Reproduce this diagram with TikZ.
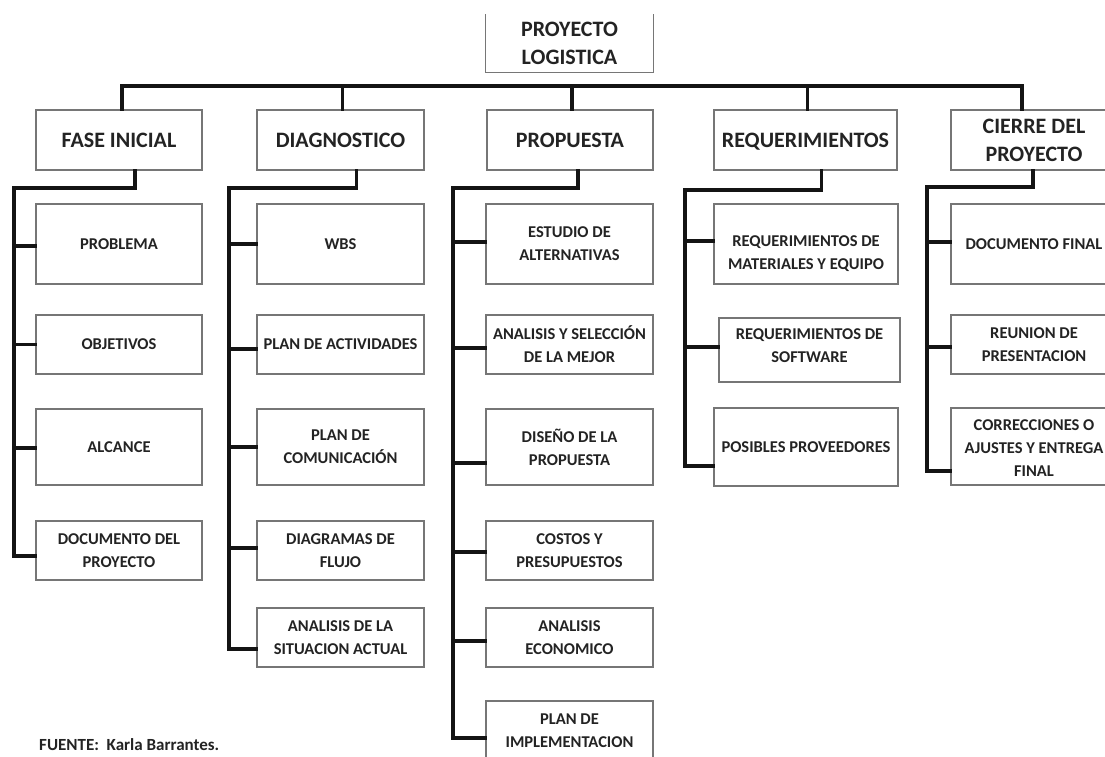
\documentclass[tikz,border=0pt]{standalone}
\usepackage{fontspec}
\setmainfont{Carlito}
\definecolor{boxgray}{RGB}{118,118,118}
\definecolor{ink}{RGB}{35,35,35}
% box by its corners (x1,y1,x2,y2), y grows downwards
\newcommand{\wbsbox}[7]{%
  \node[#2,minimum width={(#5-#3)*1pt},minimum height={(#6-#4)*1pt}]
    (#1) at ({(#3+#5)/2},{(#4+#6)/2}) {#7};}
% horizontal stub from a spine to a box's left side
\newcommand{\wbsstub}[3]{%
  \coordinate (tmp) at ([yshift=#3]#2.west);
  \draw[conn] (#1 |- tmp) -- (tmp);}
\begin{document}
\begin{tikzpicture}[x=1pt,y=-1pt,
  box/.style={rectangle,draw=boxgray,line width=1.3pt,inner sep=0pt,align=center,text=ink},
  lvone/.style={box,font=\fontsize{22}{28}\selectfont\bfseries},
  twofont/.style={font=\fontsize{16.5}{23}\selectfont\bfseries},
  lvtwo/.style={box,twofont},
  lvtext/.style={twofont,align=center,text=ink,inner sep=0pt},
  conn/.style={line width=3.2pt,black!92,line cap=rect,line join=miter}]
\clip (0,0) rectangle (1105,756);
\fill[white] (0,0) rectangle (1105,756);

% root
\wbsbox{top}{lvone,draw=none}{486}{15}{653}{72}{PROYECTO\\LOGISTICA}
\draw[box] (top.north west) -- (top.south west) -- (top.south east) -- (top.north east);

% phases
\wbsbox{fase}{lvone}{36}{110}{202}{170}{FASE INICIAL}
\wbsbox{diag}{lvone}{257}{110}{424}{170}{DIAGNOSTICO}
\wbsbox{prop}{lvone}{487}{110}{653}{170}{PROPUESTA}
\wbsbox{req}{lvone,text depth=0pt}{714}{110}{897}{170}{REQUERIMIENTOS}
\wbsbox{cierre}{lvone}{951}{110}{1117}{170}{CIERRE DEL\\PROYECTO}

% fase inicial
\wbsbox{prob}{lvtwo}{36}{204}{202}{284}{PROBLEMA}
\wbsbox{obj}{lvtwo}{36}{315}{202}{374}{OBJETIVOS}
\wbsbox{alc}{lvtwo}{36}{409}{202}{485}{ALCANCE}
\wbsbox{docp}{lvtwo}{36}{521}{202}{580}{DOCUMENTO DEL\\PROYECTO}

% diagnostico
\wbsbox{wbs}{lvtwo}{257}{204}{424}{284}{WBS}
\wbsbox{pact}{lvtwo}{257}{315}{424}{374}{PLAN DE ACTIVIDADES}
\wbsbox{pcom}{lvtwo}{257}{409}{424}{485}{PLAN DE\\COMUNICACIÓN}
\wbsbox{dflu}{lvtwo}{257}{521}{424}{580}{DIAGRAMAS DE\\FLUJO}
\wbsbox{asit}{lvtwo}{257}{608}{424}{667}{ANALISIS DE LA\\SITUACION ACTUAL}

% propuesta
\wbsbox{est}{lvtwo}{486}{204}{653}{284}{ESTUDIO DE\\ALTERNATIVAS}
\wbsbox{asel}{lvtwo}{486}{315}{653}{374}{ANALISIS Y SELECCIÓN\\DE LA MEJOR}
\wbsbox{dis}{lvtwo}{486}{409}{653}{485}{DISEÑO DE LA\\PROPUESTA}
\wbsbox{cos}{lvtwo}{486}{521}{653}{580}{COSTOS Y\\PRESUPUESTOS}
\wbsbox{aeco}{lvtwo}{486}{608}{653}{667}{ANALISIS\\ECONOMICO}
\wbsbox{pimp}{lvtwo}{486}{701}{653}{761}{PLAN DE\\IMPLEMENTACION}

% requerimientos (text set a little off the box centre)
\wbsbox{rmat}{lvtwo,label={[lvtext,yshift=-10pt]center:{REQUERIMIENTOS DE\\MATERIALES Y EQUIPO}}}{714}{204}{898}{284}{}
\wbsbox{rsof}{lvtwo,label={[lvtext,yshift=4pt]center:{REQUERIMIENTOS DE\\SOFTWARE}}}{719}{318}{900}{382}{}
\wbsbox{prov}{lvtwo}{714}{408}{898}{486}{POSIBLES PROVEEDORES}

% cierre
\wbsbox{dfin}{lvtwo}{951}{204}{1117}{284}{DOCUMENTO FINAL}
\wbsbox{reun}{lvtwo}{951}{315}{1117}{374}{REUNION DE\\PRESENTACION}
\wbsbox{corr}{lvtwo,label={[lvtext,yshift=-2pt]center:{CORRECCIONES O\\AJUSTES Y ENTREGA\\FINAL}}}{951}{408}{1117}{485}{}

% main bus
\coordinate (bus) at (0,86);
\coordinate (faseTop) at ([xshift=3pt]fase.north);
\coordinate (cierreTop) at ([xshift=-12pt]cierre.north);
\draw[conn] (faseTop) -- (faseTop |- bus) -- (cierreTop |- bus) -- (cierreTop);
\foreach \n in {diag,prop,req}
  \draw[conn] ([xshift=2pt]\n.north) -- ([xshift=2pt]\n.north |- bus);

% fase inicial branch
\coordinate (faseV) at (14,188);
\coordinate (faseEnd) at ([yshift=-5.5pt]docp.west);
\draw[conn] ([xshift=16pt]fase.south) |- (faseV) |- (faseEnd);
\wbsstub{faseV}{prob}{-2pt}
\wbsstub{faseV}{obj}{0pt}
\wbsstub{faseV}{alc}{-1pt}

% diagnostico branch
\coordinate (diagV) at (229,188);
\coordinate (diagEnd) at ([yshift=-11.5pt]asit.west);
\draw[conn] ([xshift=16pt]diag.south) |- (diagV) |- (diagEnd);
\wbsstub{diagV}{wbs}{0pt}
\wbsstub{diagV}{pact}{-4.5pt}
\wbsstub{diagV}{pcom}{0pt}
\wbsstub{diagV}{dflu}{2.5pt}

% propuesta branch
\coordinate (propV) at (453,188);
\coordinate (propEnd) at ([yshift=-7pt]pimp.west);
\draw[conn] ([xshift=8pt]prop.south) |- (propV) |- (propEnd);
\wbsstub{propV}{est}{2pt}
\wbsstub{propV}{asel}{-3.5pt}
\wbsstub{propV}{dis}{-16pt}
\wbsstub{propV}{cos}{-1.5pt}
\wbsstub{propV}{aeco}{-3.5pt}

% requerimientos branch
\coordinate (reqV) at (685,190);
\coordinate (reqEnd) at ([yshift=-19pt]prov.west);
\draw[conn] ([xshift=16pt]req.south) |- (reqV) |- (reqEnd);
\wbsstub{reqV}{rmat}{3pt}
\wbsstub{reqV}{rsof}{3pt}

% cierre branch
\coordinate (cierreV) at (927,187);
\coordinate (cierreEnd) at ([yshift=-24.5pt]corr.west);
\draw[conn] ([xshift=-1pt]cierre.south) |- (cierreV) |- (cierreEnd);
\wbsstub{cierreV}{dfin}{2pt}
\wbsstub{cierreV}{reun}{-2.5pt}

% source note
\node[anchor=base west,inner sep=0pt,text=ink,font=\fontsize{17}{20}\selectfont\bfseries]
  (fuente) at (39,750) {FUENTE:\ \ Karla Barrantes.};
\end{tikzpicture}
\end{document}
